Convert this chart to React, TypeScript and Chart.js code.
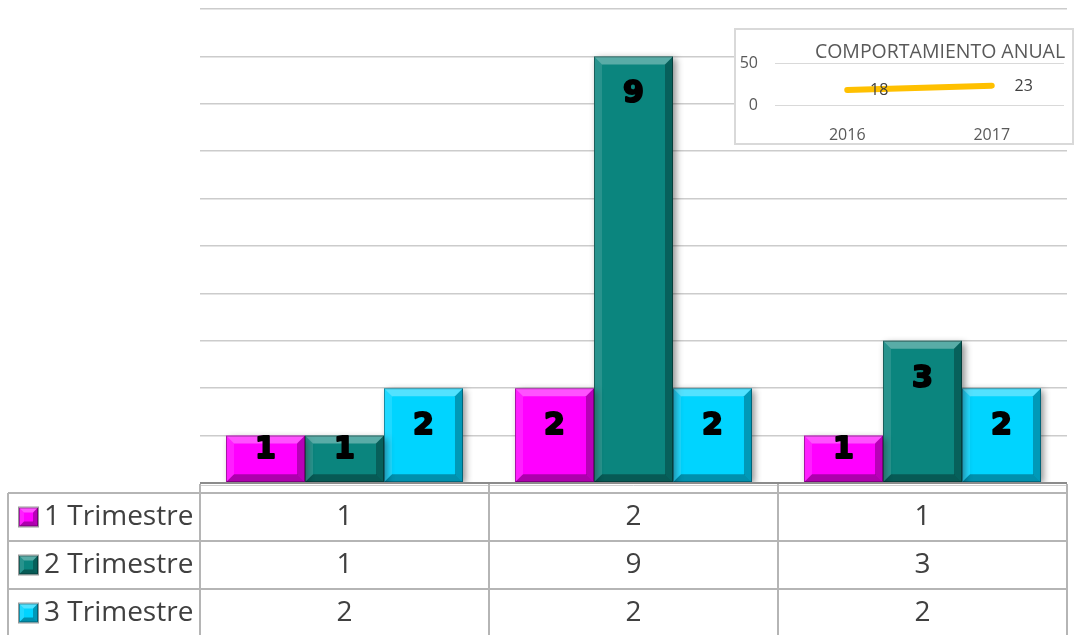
import React, { useEffect, useRef } from 'react';
import { Chart, registerables } from 'chart.js';

Chart.register(...registerables);

const categories = ['', '', ''];
const seriesNames = ['1 Trimestre', '2 Trimestre', '3 Trimestre'];
const serie1 = [1, 2, 1];
const serie2 = [1, 9, 3];
const serie3 = [2, 2, 2];
const seriesColors = ['#FF00FF', '#0B857E', '#00D4FF'];
const yMax = 10;
const yStep = 1;

const annualTitle = 'COMPORTAMIENTO ANUAL';
const annualYears = ['2016', '2017'];
const annualValues = [18, 23];
const annualMax = 50;
const annualStep = 50;

const TEXT_FONT = '"Open Sans", "Liberation Sans", sans-serif';

function bevel(ctx: CanvasRenderingContext2D, l: number, t: number, r: number, b: number, s: number) {
  const poly = (pts: number[][], fill: string) => {
    ctx.beginPath();
    ctx.moveTo(pts[0][0], pts[0][1]);
    for (let i = 1; i < pts.length; i++) ctx.lineTo(pts[i][0], pts[i][1]);
    ctx.closePath();
    ctx.fillStyle = fill;
    ctx.fill();
  };
  poly([[l, t], [r, t], [r - s, t + s], [l + s, t + s]], 'rgba(255,255,255,0.32)');
  poly([[l, t], [l + s, t + s], [l + s, b - s], [l, b]], 'rgba(255,255,255,0.12)');
  poly([[r, t], [r, b], [r - s, b - s], [r - s, t + s]], 'rgba(0,0,0,0.28)');
  poly([[l, b], [r, b], [r - s, b - s], [l + s, b - s]], 'rgba(0,0,0,0.32)');
  ctx.strokeStyle = 'rgba(0,0,0,0.35)';
  ctx.lineWidth = 1;
  ctx.strokeRect(l + 0.5, t + 0.5, r - l - 1, b - t - 1);
}

const shadowPlugin = {
  id: 'barShadow',
  beforeDatasetDraw(chart: any) {
    const ctx = chart.ctx;
    ctx.save();
    ctx.shadowColor = 'rgba(0,0,0,0.45)';
    ctx.shadowBlur = 7;
    ctx.shadowOffsetX = 3;
    ctx.shadowOffsetY = 2;
  },
  afterDatasetDraw(chart: any) {
    chart.ctx.restore();
  },
};

const bevelLabelPlugin = {
  id: 'bevelLabels',
  afterDatasetsDraw(chart: any) {
    const ctx = chart.ctx;
    ctx.save();
    chart.data.datasets.forEach((ds: any, di: number) => {
      const meta = chart.getDatasetMeta(di);
      meta.data.forEach((el: any) => {
        const p = el.getProps(['x', 'y', 'base', 'width'], true);
        const l = p.x - p.width / 2;
        const r = p.x + p.width / 2;
        bevel(ctx, l, p.y, r, p.base, 8);
      });
    });
    ctx.fillStyle = '#000';
    ctx.strokeStyle = '#000';
    ctx.lineWidth = 2;
    ctx.lineJoin = 'round';
    ctx.font = 'bold 30px "DejaVu Sans", sans-serif';
    ctx.textAlign = 'center';
    ctx.textBaseline = 'middle';
    chart.data.datasets.forEach((ds: any, di: number) => {
      const meta = chart.getDatasetMeta(di);
      meta.data.forEach((el: any, i: number) => {
        const p = el.getProps(['x', 'y', 'base'], true);
        const y = Math.min(p.y + 38, (p.y + p.base) / 2 - 9);
        ctx.strokeText(String(ds.data[i]), p.x, y);
        ctx.fillText(String(ds.data[i]), p.x, y);
      });
    });
    ctx.restore();
  },
};

const tablePlugin = {
  id: 'dataTable',
  afterDraw(chart: any) {
    const ctx = chart.ctx;
    const area = chart.chartArea;
    const xs = chart.scales.x;
    const n = chart.data.labels.length;
    const colW = (area.right - area.left) / n;
    const top = area.bottom;
    const rowTop = top + 10;
    const rowH = 48;
    const tableLeft = 8;
    const bottom = chart.height + 2;
    ctx.save();
    ctx.strokeStyle = '#8c8c8c';
    ctx.lineWidth = 2;
    ctx.beginPath();
    ctx.moveTo(area.left, top);
    ctx.lineTo(area.right, top);
    ctx.stroke();
    ctx.strokeStyle = '#cfcfcf';
    ctx.lineWidth = 1;
    ctx.beginPath();
    ctx.moveTo(area.left, top + 2.5);
    ctx.lineTo(area.right, top + 2.5);
    ctx.stroke();

    ctx.strokeStyle = '#b5b5b5';
    ctx.lineWidth = 2;
    for (let i = 0; i <= n; i++) {
      const x = area.left + i * colW;
      ctx.beginPath();
      ctx.moveTo(x, top + 1);
      ctx.lineTo(x, bottom);
      ctx.stroke();
    }
    ctx.beginPath();
    ctx.moveTo(tableLeft, rowTop);
    ctx.lineTo(tableLeft, bottom);
    ctx.stroke();
    for (let r = 0; r < chart.data.datasets.length; r++) {
      const y = rowTop + r * rowH;
      ctx.beginPath();
      ctx.moveTo(tableLeft, y);
      ctx.lineTo(area.right, y);
      ctx.stroke();
    }
    ctx.textBaseline = 'middle';
    chart.data.datasets.forEach((ds: any, r: number) => {
      const cy = rowTop + r * rowH + rowH / 2;
      const kl = 19, kt = cy - 9.5, ks = 19;
      ctx.fillStyle = ds.backgroundColor;
      ctx.fillRect(kl, kt, ks, ks);
      bevel(ctx, kl, kt, kl + ks, kt + ks, 5);
      ctx.strokeStyle = '#9a9a9a';
      ctx.lineWidth = 1;
      ctx.strokeRect(kl - 0.5, kt - 0.5, ks + 1, ks + 1);
      ctx.fillStyle = '#404040';
      ctx.font = `28px ${TEXT_FONT}`;
      ctx.textAlign = 'left';
      ctx.fillText(ds.label, 44, cy);
      ctx.textAlign = 'center';
      ds.data.forEach((v: number, i: number) => {
        ctx.fillText(String(v), xs.getPixelForValue(i), cy);
      });
    });
    ctx.restore();
  },
};

const insetPlugin = {
  id: 'insetDecor',
  afterDatasetsDraw(chart: any) {
    const ctx = chart.ctx;
    ctx.save();
    ctx.fillStyle = '#595959';
    ctx.font = `19.5px ${TEXT_FONT}`;
    ctx.textAlign = 'center';
    ctx.textBaseline = 'middle';
    ctx.fillText(annualTitle, 204, 22);
    ctx.fillStyle = '#404040';
    ctx.font = `16px ${TEXT_FONT}`;
    const meta = chart.getDatasetMeta(0);
    meta.data.forEach((el: any, i: number) => {
      ctx.fillText(String(chart.data.datasets[0].data[i]), el.x + 32, el.y + 1);
    });
    ctx.restore();
  },
};

export default function App() {
  const mainRef = useRef<HTMLCanvasElement>(null);
  const insetRef = useRef<HTMLCanvasElement>(null);

  useEffect(() => {
    const seriesValues = [serie1, serie2, serie3];
    const main = new Chart(mainRef.current as HTMLCanvasElement, {
      type: 'bar',
      data: {
        labels: categories,
        datasets: seriesValues.map((vals, i) => ({
          label: seriesNames[i],
          data: vals,
          backgroundColor: seriesColors[i],
          borderWidth: 0,
          barPercentage: 1,
          categoryPercentage: 0.82,
        })),
      },
      options: {
        responsive: false,
        animation: false,
        devicePixelRatio: 1,
        layout: { padding: { left: 200, right: 8, top: 9, bottom: 152 } },
        plugins: { legend: { display: false }, tooltip: { enabled: false } },
        scales: {
          x: { display: false },
          y: {
            min: 0,
            max: yMax,
            ticks: { stepSize: yStep, display: false },
            grid: { color: '#cccccc', lineWidth: 1.5, drawTicks: false },
            border: { display: false },
          },
        },
      },
      plugins: [shadowPlugin, bevelLabelPlugin, tablePlugin],
    } as any);

    const inset = new Chart(insetRef.current as HTMLCanvasElement, {
      type: 'line',
      data: {
        labels: annualYears,
        datasets: [
          {
            label: annualTitle,
            data: annualValues,
            borderColor: '#FFC000',
            borderWidth: 6,
            borderCapStyle: 'round',
            pointRadius: 0,
            tension: 0,
          },
        ],
      },
      options: {
        responsive: false,
        animation: false,
        devicePixelRatio: 1,
        layout: { padding: { left: 0, right: 8, top: 33, bottom: 0 } },
        plugins: { legend: { display: false }, tooltip: { enabled: false } },
        scales: {
          x: {
            offset: true,
            grid: { display: false },
            border: { display: false },
            ticks: { padding: 13, maxRotation: 0, color: '#595959', font: { family: TEXT_FONT, size: 16 } },
            afterFit: (s: any) => { s.height = 38; },
          },
          y: {
            min: 0,
            max: annualMax,
            ticks: { stepSize: annualStep, padding: 17, color: '#595959', font: { family: TEXT_FONT, size: 16 } },
            grid: { color: '#d9d9d9', drawTicks: false },
            border: { display: false },
            afterFit: (s: any) => { s.width = 39; },
          },
        },
      },
      plugins: [insetPlugin],
    } as any);

    return () => {
      main.destroy();
      inset.destroy();
    };
  }, []);

  return (
    <div style={{ position: 'fixed', left: 0, top: 0, width: 1075, height: 635, background: '#fff', overflow: 'hidden' }}>
      <canvas ref={mainRef} width={1075} height={635} style={{ position: 'absolute', left: 0, top: 0 }} />
      <div
        style={{
          position: 'absolute',
          left: 734,
          top: 28,
          width: 340,
          height: 117,
          border: '2px solid #d9d9d9',
          boxSizing: 'border-box',
          background: '#fff',
        }}
      >
        <canvas ref={insetRef} width={336} height={113} style={{ display: 'block' }} />
      </div>
    </div>
  );
}
